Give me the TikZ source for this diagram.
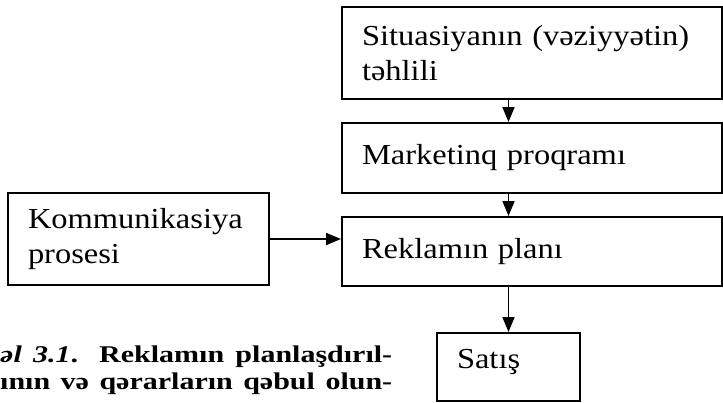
\documentclass[tikz,border=0pt]{standalone}
\usepackage{fontspec}
\setmainfont{Liberation Serif}[FakeStretch=1.12]
\newfontfamily\capfont{Liberation Serif}[FakeStretch=1.25]
\usetikzlibrary{arrows.meta}
\begin{document}
\begin{tikzpicture}[x=1pt,y=-1pt,
  box/.style={draw, line width=2pt, rectangle, anchor=north west,
    inner xsep=20pt, inner ysep=0pt, align=left,
    font=\fontsize{29}{35}\selectfont},
  flow/.style={line width=1.7pt, -{Triangle[length=15pt,width=12pt]}},
  captext/.style={anchor=base west, inner sep=0pt,
    font=\capfont\bfseries\fontsize{24}{27}\selectfont}]
\useasboundingbox (0,0) rectangle (723,402);

% process boxes
\node[box, minimum width=380pt, minimum height=92pt, text width=340pt]
  (sit) at (341,6) {Situasiyanın (vəziyyətin)\\təhlili};
\node[box, minimum width=380pt, minimum height=70pt, text width=340pt]
  (mkt) at (341,122) {Marketinq proqramı};
\node[box, minimum width=380pt, minimum height=69pt, text width=340pt]
  (rek) at (341,216) {Reklamın planı};
\node[box, minimum width=261pt, minimum height=92pt, text width=221pt]
  (kom) at (7,192) {Kommunikasiya\\prosesi};
\node[box, minimum width=143pt, minimum height=68pt, text width=103pt]
  (sat) at (436,332) {\raisebox{5pt}[\height][\depth]{Satış}};

% connectors
\draw[flow] (sit.south -| sat.north) -- (mkt.north -| sat.north);
\draw[flow] (mkt.south -| sat.north) -- (rek.north -| sat.north);
\draw[flow] (rek.south -| sat.north) -- (sat.north);
\draw[flow] (kom.east) -- (rek.west |- kom.east);

% caption: two justified lines in one block, baseline of the first line at 362
\node[captext] (cap) at (0,362)
  {\vtop{\baselineskip=27pt\lineskiplimit=-20pt
    \hbox{\makebox[392pt][s]{\textit{əl 3.1}. Reklamın planlaşdırıl-}}
    \hbox{\makebox[392pt][s]{ının və qərarların qəbul olun-}}}};
\end{tikzpicture}
\end{document}
